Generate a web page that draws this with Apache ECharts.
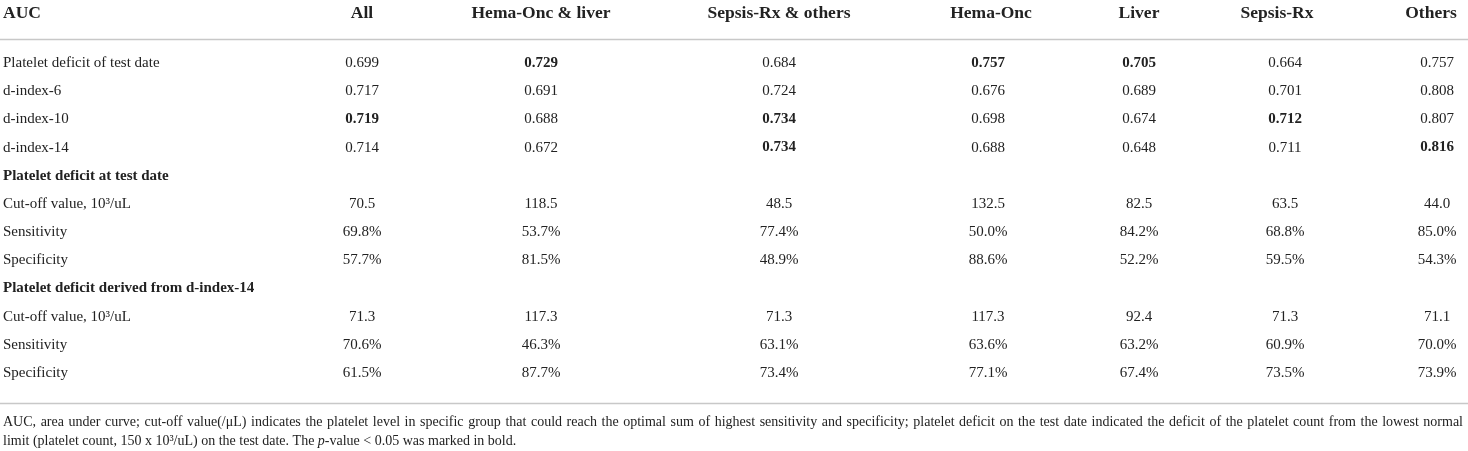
<!DOCTYPE html>
<html>
<head>
<meta charset="utf-8">
<script src="https://cdn.jsdelivr.net/npm/echarts@6.0.0/dist/echarts.min.js"></script>
<style>
  html, body { margin: 0; padding: 0; background: #fff; }
  #main { width: 1468px; height: 451px; }
</style>
</head>
<body>
<div id="main"></div>
<script>
// table content
const stubHeader = 'AUC';
const columns = ['All', 'Hema-Onc & liver', 'Sepsis-Rx & others', 'Hema-Onc', 'Liver', 'Sepsis-Rx', 'Others'];
const rowLabels = [
  'Platelet deficit of test date', 'd-index-6', 'd-index-10', 'd-index-14',
  'Platelet deficit at test date', 'Cut-off value, 10³/uL', 'Sensitivity', 'Specificity',
  'Platelet deficit derived from d-index-14', 'Cut-off value, 10³/uL', 'Sensitivity', 'Specificity'
];
// auc = 3 decimals, cut = 1 decimal, pct = percent, section = bold group heading
const rowKinds = ['auc', 'auc', 'auc', 'auc', 'section', 'cut', 'pct', 'pct', 'section', 'cut', 'pct', 'pct'];

const allValues      = [0.699, 0.717, 0.719, 0.714, null, 70.5, 69.8, 57.7, null, 71.3, 70.6, 61.5];
const hemaLiverVals  = [0.729, 0.691, 0.688, 0.672, null, 118.5, 53.7, 81.5, null, 117.3, 46.3, 87.7];
const sepsisOthVals  = [0.684, 0.724, 0.734, 0.734, null, 48.5, 77.4, 48.9, null, 71.3, 63.1, 73.4];
const hemaOncValues  = [0.757, 0.676, 0.698, 0.688, null, 132.5, 50.0, 88.6, null, 117.3, 63.6, 77.1];
const liverValues    = [0.705, 0.689, 0.674, 0.648, null, 82.5, 84.2, 52.2, null, 92.4, 63.2, 67.4];
const sepsisValues   = [0.664, 0.701, 0.712, 0.711, null, 63.5, 68.8, 59.5, null, 71.3, 60.9, 73.5];
const othersValues   = [0.757, 0.808, 0.807, 0.816, null, 44.0, 85.0, 54.3, null, 71.1, 70.0, 73.9];
const columnValues = [allValues, hemaLiverVals, sepsisOthVals, hemaOncValues, liverValues, sepsisValues, othersValues];

// cells with p < 0.05, [row, column]
const boldCells = [[0, 1], [0, 3], [0, 4], [2, 0], [2, 2], [2, 5], [3, 2], [3, 6]];

const footnote1 = 'AUC, area under curve; cut-off value(/μL) indicates the platelet level in specific group that could reach the optimal sum of highest sensitivity and specificity; platelet deficit on the test date indicated the deficit of the platelet count from the lowest normal';
const footnote2a = 'limit (platelet count, 150 x 10³/uL) on the test date. The ';
const footnote2b = 'p';
const footnote2c = '-value < 0.05 was marked in bold.';

// layout
const stubX = 3;
const headerX = [362, 541, 779, 991, 1139, 1277, 1431];
const cellX = [362, 541, 779, 988, 1139, 1285, 1437];
const FONT = "'Liberation Serif', 'DejaVu Serif', serif";
const INK = '#222';
const RULE = '#c8c8c8';
const NOTE_SIZE = 14;

function fmt(kind, v) {
  if (v == null) return '';
  if (kind === 'auc') return v.toFixed(3);
  if (kind === 'cut') return v.toFixed(1);
  return v.toFixed(1) + '%';
}
function isBold(r, c) {
  return boldCells.some(b => b[0] === r && b[1] === c);
}

// body cells: [column (-1 = stub), row]
const bodyData = [];
rowLabels.forEach((label, r) => {
  bodyData.push([-1, r]);
  columnValues.forEach((vals, c) => {
    if (vals[r] != null) bodyData.push([c, r]);
  });
});
const headerData = [[-1, 0]].concat(columns.map((name, c) => [c, 0]));

function textEl(x, y, text, align, size, bold) {
  return {
    type: 'text',
    x: x,
    y: y,
    style: {
      text: text,
      textAlign: align,
      textVerticalAlign: 'middle',
      fill: INK,
      fontSize: size,
      fontFamily: FONT,
      fontWeight: bold ? 'bold' : 'normal'
    }
  };
}

// first footnote line is justified across the full width
function justifiedLine(text, x0, x1, y) {
  const ctx = document.createElement('canvas').getContext('2d');
  ctx.font = NOTE_SIZE + 'px ' + FONT;
  const words = text.split(' ');
  const widths = words.map(w => ctx.measureText(w).width);
  const total = widths.reduce((a, b) => a + b, 0);
  const gap = (x1 - x0 - total) / (words.length - 1);
  let x = x0;
  return words.map((w, i) => {
    const el = {
      type: 'text', x: x, y: y,
      style: { text: w, fill: INK, fontSize: NOTE_SIZE, fontFamily: FONT, textVerticalAlign: 'middle' }
    };
    x += widths[i] + gap;
    return el;
  });
}

var chartDom = document.getElementById('main');
var myChart = echarts.init(chartDom, null, { renderer: 'canvas' });

var option = {
  backgroundColor: '#fff',
  animation: false,
  grid: [
    { left: 0, right: 0, top: 0, height: 26 },
    { left: 0, right: 0, top: 63 - 14.1, height: rowLabels.length * 28.2 }
  ],
  xAxis: [
    { gridIndex: 0, type: 'value', min: 0, max: 1, show: false },
    { gridIndex: 1, type: 'value', min: 0, max: 1, show: false }
  ],
  yAxis: [
    { gridIndex: 0, type: 'category', data: ['header'], show: false },
    { gridIndex: 1, type: 'category', data: rowLabels.map((l, i) => i), inverse: true, show: false }
  ],
  series: [
    {
      type: 'custom',
      xAxisIndex: 0,
      yAxisIndex: 0,
      silent: true,
      data: headerData,
      renderItem: function (params, api) {
        const c = api.value(0);
        const y = api.coord([0, 0])[1];
        if (c < 0) return textEl(stubX, y, stubHeader, 'left', 17.5, true);
        return textEl(headerX[c], y, columns[c], 'center', 17.5, true);
      }
    },
    {
      type: 'custom',
      xAxisIndex: 1,
      yAxisIndex: 1,
      silent: true,
      data: bodyData,
      renderItem: function (params, api) {
        const c = api.value(0);
        const r = api.value(1);
        const y = api.coord([0, r])[1];
        if (c < 0) {
          return textEl(stubX, y, rowLabels[r], 'left', 15, rowKinds[r] === 'section');
        }
        return textEl(cellX[c], y, fmt(rowKinds[r], columnValues[c][r]), 'center', 15, isBold(r, c));
      }
    }
  ],
  graphic: [
    { type: 'line', shape: { x1: 0, y1: 39.5, x2: 1468, y2: 39.5 }, style: { stroke: RULE, lineWidth: 1.5 } },
    { type: 'line', shape: { x1: 0, y1: 403.5, x2: 1468, y2: 403.5 }, style: { stroke: RULE, lineWidth: 1.5 } },
    {
      type: 'text', x: stubX, y: 441,
      style: {
        text: '{n|' + footnote2a + '}{i|' + footnote2b + '}{n|' + footnote2c + '}',
        textVerticalAlign: 'middle',
        rich: {
          n: { fill: INK, fontSize: NOTE_SIZE, fontFamily: FONT },
          i: { fill: INK, fontSize: NOTE_SIZE, fontFamily: FONT, fontStyle: 'italic' }
        }
      }
    }
  ].concat(justifiedLine(footnote1, stubX, 1463, 422))
};

option && myChart.setOption(option);
</script>
</body>
</html>
